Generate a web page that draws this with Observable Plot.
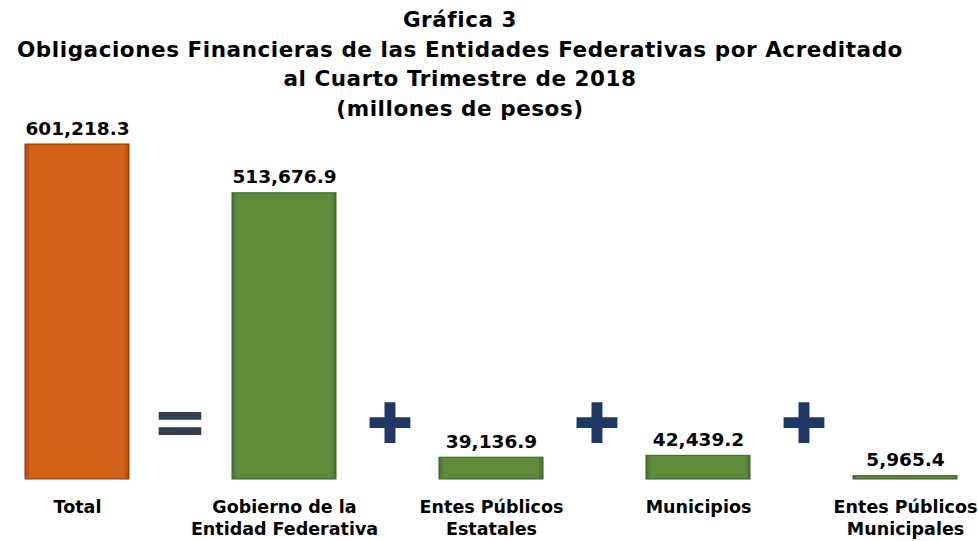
<!DOCTYPE html>
<html>
<head>
<meta charset="utf-8">
<script src="https://cdn.jsdelivr.net/npm/d3@7"></script>
<script src="https://cdn.jsdelivr.net/npm/@observablehq/plot@0.6"></script>
<style>
  html, body { margin: 0; padding: 0; background: #fff; }
  #wrap { position: relative; width: 978px; height: 541px; overflow: hidden; }
  #title { position: absolute; left: 0; top: 5px; width: 920px; text-align: center;
           font-family: "DejaVu Sans", sans-serif; font-weight: bold; font-size: 21.5px;
           letter-spacing: 0.55px; line-height: 29.5px; color: #000; }
  svg { position: absolute; left: 0; top: 0; }
</style>
</head>
<body>
<div id="wrap">
  <div id="chart"></div>
  <div id="title">Gráfica 3<br>Obligaciones Financieras de las Entidades Federativas por Acreditado<br>al Cuarto Trimestre de 2018<br>(millones de pesos)</div>
</div>
<script>
const categories = ["Total", "Gobierno de la\nEntidad Federativa", "Entes Públicos\nEstatales", "Municipios", "Entes Públicos\nMunicipales"];
const values = [601218.3, 513676.9, 39136.9, 42439.2, 5965.4];
const operators = ["=", "+", "+", "+"];

const data = categories.map((c, i) => ({cat: c, value: values[i], i}));
const ops = operators.map((o, i) => ({op: o, cat: categories[i]}));

const W = 978, H = 541, mL = 25, mR = 21, padIn = 0.5;
const step = (W - mL - mR) / (categories.length - padIn);
const fmt = d3.format(",.1f");
const font = "DejaVu Sans, sans-serif";

const plot = Plot.plot({
  width: W, height: H,
  marginLeft: mL, marginRight: mR, marginTop: 144, marginBottom: 62,
  style: {fontFamily: font, background: "transparent"},
  x: {domain: categories, paddingInner: padIn, paddingOuter: 0, axis: null},
  y: {domain: [0, d3.max(values)], axis: null},
  marks: [
    Plot.barY(data, {x: "cat", y: "value",
      fill: d => d.i === 0 ? "url(#gOrange)" : "url(#gGreen)",
      stroke: d => d.i === 0 ? "#8A3C10" : "#3D5E26", strokeWidth: 1}),
    Plot.text(data, {x: "cat", y: "value", text: d => fmt(d.value), dy: -10,
      lineAnchor: "bottom", fontSize: 18.5, fontWeight: "bold", fill: "#000"}),
    Plot.text(data, {x: "cat", y: 0, text: "cat", dy: 17, lineAnchor: "top",
      lineHeight: 1.3, fontSize: 17.5, fontWeight: "bold", fill: "#000"}),
    Plot.text(ops.filter(d => d.op === "+"), {x: "cat", y: 0, text: () => "\u271A", dx: step / 2 + 2,
      dy: -54, fontSize: 56, fill: "#1F3864"}),
    Plot.text(ops.filter(d => d.op === "="), {x: "cat", y: 0, text: "op", dx: step / 2 - 1,
      dy: -56, fontSize: 68, fontWeight: "bold", fill: "#333F50"})
  ]
});

const ns = "http://www.w3.org/2000/svg";
const defs = document.createElementNS(ns, "defs");
function grad(id, edge, base) {
  const g = document.createElementNS(ns, "linearGradient");
  g.setAttribute("id", id);
  g.setAttribute("x1", "0"); g.setAttribute("x2", "1");
  g.setAttribute("y1", "0"); g.setAttribute("y2", "0");
  [[0, edge], [0.05, base], [0.95, base], [1, edge]].forEach(([o, c]) => {
    const s = document.createElementNS(ns, "stop");
    s.setAttribute("offset", o); s.setAttribute("stop-color", c);
    g.appendChild(s);
  });
  defs.appendChild(g);
}
grad("gOrange", "#A9480F", "#D36117");
grad("gGreen", "#4A7030", "#5E8C3B");
plot.insertBefore(defs, plot.firstChild);
document.getElementById("chart").appendChild(plot);
</script>
</body>
</html>
